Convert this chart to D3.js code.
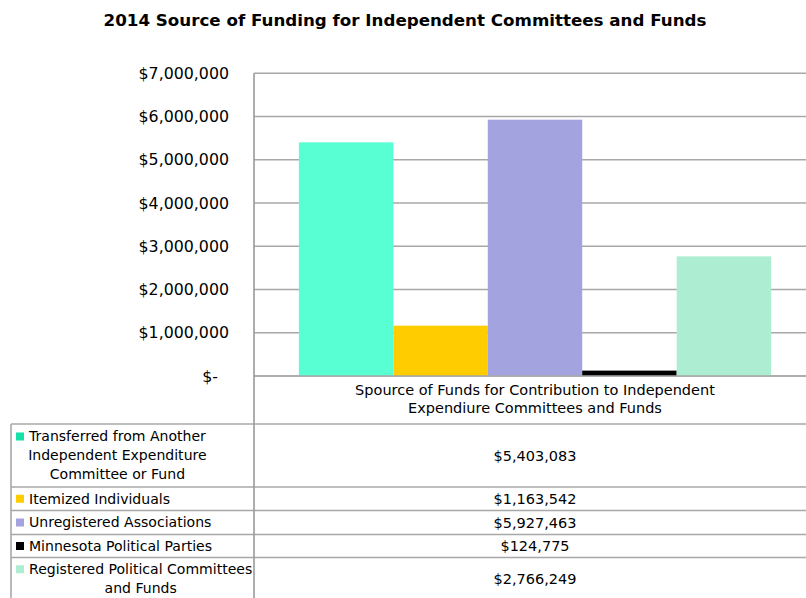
<!DOCTYPE html>
<html>
<head>
<meta charset="utf-8">
<script src="https://cdn.jsdelivr.net/npm/d3@7"></script>
<style>
  html, body { margin: 0; padding: 0; background: #fff; }
  svg { display: block; }
  text { font-family: "DejaVu Sans", sans-serif; fill: #000; }
</style>
</head>
<body>
<svg id="chart" width="806" height="598"></svg>
<script>
const title = "2014 Source of Funding for Independent Committees and Funds";
const category = ["Spource of Funds for Contribution to Independent", "Expendiure Committees and Funds"];
const seriesNames = [
  ["Transferred from Another", "Independent Expenditure", "Committee or Fund"],
  ["Itemized Individuals"],
  ["Unregistered Associations"],
  ["Minnesota Political Parties"],
  ["Registered Political Committees", "and Funds"]
];
const seriesValues = [5403083, 1163542, 5927463, 124775, 2766249];
const seriesColors = ["#57FFD2", "#FFCC00", "#A3A3DF", "#000000", "#ADEED3"];
const markerColors = ["#14E0A8", "#FFCC00", "#A3A3DF", "#000000", "#ADEED3"];
const yTicks = [0, 1000000, 2000000, 3000000, 4000000, 5000000, 6000000, 7000000];

const svg = d3.select("#chart");
const plotLeft = 254, plotRight = 816, plotTop = 73.3, plotBottom = 376;
const tableLeft = 11, tableRight = 806;
const rowEdges = [424, 487, 510.5, 534.5, 557.5, 602];
const gridColor = "#A8A8A8";
const bodySize = "14.5px";
const labelSize = "14.05px";

const y = d3.scaleLinear().domain([0, 7000000]).range([plotBottom, plotTop]);
const xGroup = d3.scaleBand().domain(["g"]).range([plotLeft, plotRight]).paddingInner(0).paddingOuter(0.095);
const x = d3.scaleBand().domain(d3.range(seriesValues.length))
  .range([xGroup("g"), xGroup("g") + xGroup.bandwidth()]).padding(0);

// Title
svg.append("text").attr("x", 405).attr("y", 26).attr("text-anchor", "middle")
  .style("font-weight", "bold").style("font-size", "16.7px").text(title);

// Gridlines
svg.append("g").selectAll("line").data(yTicks).join("line")
  .attr("x1", plotLeft).attr("x2", tableRight)
  .attr("y1", d => y(d)).attr("y2", d => y(d))
  .attr("stroke", gridColor).attr("stroke-width", 1.6);

// Y tick labels
const fmt = d3.format(",");
svg.append("g").selectAll("text").data(yTicks).join("text")
  .attr("x", d => d === 0 ? 218 : 229).attr("y", d => y(d)).attr("dy", "0.35em")
  .attr("text-anchor", "end").style("font-size", "15.8px")
  .text(d => d === 0 ? "$-" : "$" + fmt(d));

// Bars
svg.append("g").selectAll("rect").data(seriesValues).join("rect")
  .attr("x", (d, i) => x(i)).attr("width", x.bandwidth())
  .attr("y", d => y(d)).attr("height", d => y(0) - y(d))
  .attr("fill", (d, i) => seriesColors[i]);

// Axis baseline redraw on top
svg.append("line").attr("x1", plotLeft).attr("x2", tableRight)
  .attr("y1", y(0)).attr("y2", y(0)).attr("stroke", gridColor).attr("stroke-width", 1.6);

// Category label
const cx = xGroup("g") + xGroup.bandwidth() / 2;
svg.append("g").selectAll("text").data(category).join("text")
  .attr("x", cx).attr("y", (d, i) => 390 + i * 18).attr("dy", "0.35em")
  .attr("text-anchor", "middle").style("font-size", bodySize).text(d => d);

// Table lines
svg.append("g").selectAll("line").data(rowEdges.slice(0, 5)).join("line")
  .attr("x1", tableLeft).attr("x2", tableRight)
  .attr("y1", d => d).attr("y2", d => d)
  .attr("stroke", gridColor).attr("stroke-width", 1.6);
svg.append("line").attr("x1", tableLeft).attr("x2", tableLeft)
  .attr("y1", rowEdges[0]).attr("y2", 598).attr("stroke", gridColor).attr("stroke-width", 1.6);
svg.append("line").attr("x1", plotLeft).attr("x2", plotLeft)
  .attr("y1", plotTop).attr("y2", 598).attr("stroke", "#9A9A9A").attr("stroke-width", 1.6);

// Table rows
const lineH = 19;
seriesNames.forEach((lines, i) => {
  const top = rowEdges[i], bot = rowEdges[i + 1];
  const mid = (top + bot) / 2 - (i === 4 ? 1 : 0);
  const startY = mid - (lines.length - 1) * lineH / 2;
  const g = svg.append("g");
  let centerX = null;
  if (lines.length > 1) {
    const tmp = g.append("text").style("font-size", labelSize).text(lines[0]);
    const w = tmp.node().getComputedTextLength();
    tmp.remove();
    centerX = 29 + w / 2;
  }
  lines.forEach((t, j) => {
    g.append("text").attr("x", centerX === null ? 29 : centerX)
      .attr("y", startY + j * lineH).attr("dy", "0.35em")
      .attr("text-anchor", centerX === null ? "start" : "middle")
      .style("font-size", labelSize).text(t);
  });
  g.append("rect").attr("x", 16).attr("y", startY - 4).attr("width", 8).attr("height", 8)
    .attr("fill", markerColors[i]);
  svg.append("text").attr("x", cx).attr("y", mid).attr("dy", "0.35em")
    .attr("text-anchor", "middle").style("font-size", bodySize)
    .text("$" + fmt(seriesValues[i]));
});
</script>
</body>
</html>
